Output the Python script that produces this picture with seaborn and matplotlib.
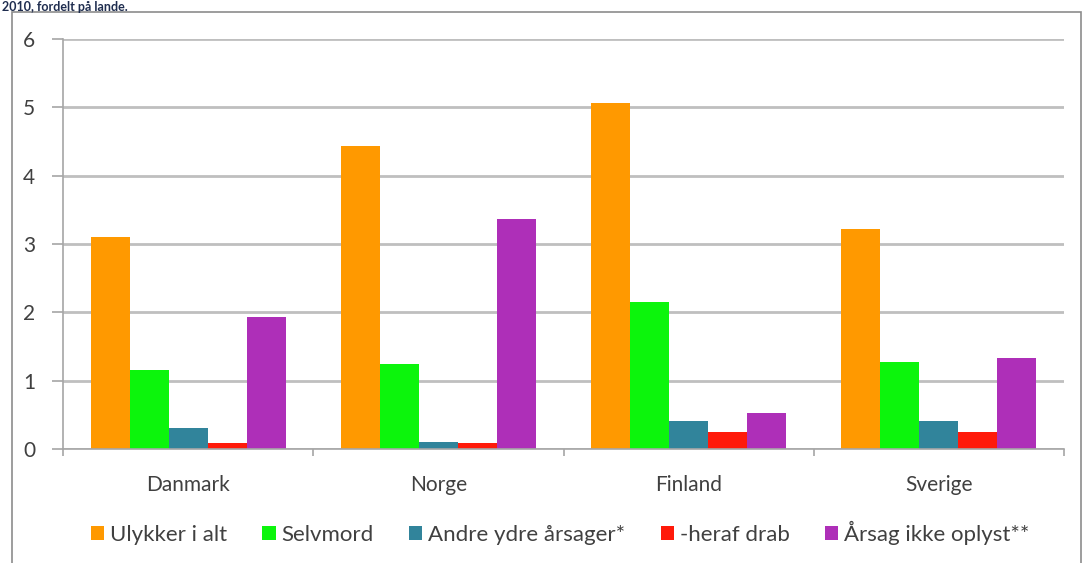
import matplotlib
matplotlib.use("Agg")
import matplotlib.pyplot as plt
from matplotlib.patches import Rectangle
import seaborn as sns
import pandas as pd

countries = ["Danmark", "Norge", "Finland", "Sverige"]
causes = ["Ulykker i alt", "Selvmord", "Andre ydre årsager*", "-heraf drab", "Årsag ikke oplyst**"]
ulykker = [3.10, 4.44, 5.07, 3.22]
selvmord = [1.16, 1.24, 2.15, 1.27]
andre = [0.31, 0.10, 0.41, 0.41]
drab = [0.09, 0.09, 0.25, 0.25]
ikke_oplyst = [1.93, 3.37, 0.53, 1.33]
colors = ["#FF9900", "#0CF50C", "#31849B", "#FF1A0A", "#AE2FB8"]

series = [ulykker, selvmord, andre, drab, ikke_oplyst]
rows = []
for cause, vals in zip(causes, series):
    for c, v in zip(countries, vals):
        rows.append({"Land": c, "Årsag": cause, "Værdi": v})
df = pd.DataFrame(rows)

sns.set_theme(style="white")
plt.rcParams["font.family"] = ["Lato", "DejaVu Sans"]

fig = plt.figure(figsize=(10.89, 5.63), dpi=100)
ax = fig.add_axes([63 / 1089, 1 - 449 / 563, (1064 - 63) / 1089, (449 - 39) / 563])

sns.barplot(data=df, x="Land", y="Værdi", hue="Årsag", hue_order=causes,
            order=countries, palette=colors, width=0.78, gap=0,
            saturation=1, linewidth=0, ax=ax, legend=True)

ax.set_ylim(0, 6)
ax.set_xlim(-0.5, 3.5)
ax.set_yticks(range(0, 7))
ax.yaxis.grid(True, color="#BFBFBF", linewidth=2)
ax.set_axisbelow(True)
ax.set_xlabel("")
ax.set_ylabel("")

for s in ["top", "right"]:
    ax.spines[s].set_visible(False)
ax.spines["left"].set_color("#A6A6A6")
ax.spines["left"].set_linewidth(1.2)
ax.spines["bottom"].set_color("#A6A6A6")
ax.spines["bottom"].set_linewidth(1.2)

ax.tick_params(axis="y", left=True, length=8, width=1.2, color="#A6A6A6",
               labelsize=15, labelcolor="#404040", pad=12)
ax.set_xticks([-0.5, 0.5, 1.5, 2.5, 3.5], minor=True)
ax.tick_params(axis="x", which="minor", bottom=True, length=5, width=1.2, color="#A6A6A6")
ax.tick_params(axis="x", which="major", bottom=False, labelsize=15,
               labelcolor="#404040", pad=13)

handles, labels = ax.get_legend_handles_labels()
ax.get_legend().remove()
fig.legend(handles, labels, loc="center", bbox_to_anchor=(560 / 1089, 1 - 533 / 563),
           ncol=5, frameon=False, fontsize=16, handlelength=0.6, handleheight=0.6,
           handletextpad=0.25, columnspacing=1.6, labelcolor="#404040")

# outer chart frame
fig.patches.append(Rectangle((12 / 1089, -0.02), 1069 / 1089, 1 - 12 / 563 + 0.02,
                             transform=fig.transFigure, fill=False,
                             edgecolor="#8C8C8C", linewidth=1.2))

fig.text(0.002, 0.999, "2010, fordelt på lande.", fontsize=9, fontweight="bold",
         color="#1F2D4F", ha="left", va="top")

fig.savefig("out.png", dpi=100, facecolor="white")
